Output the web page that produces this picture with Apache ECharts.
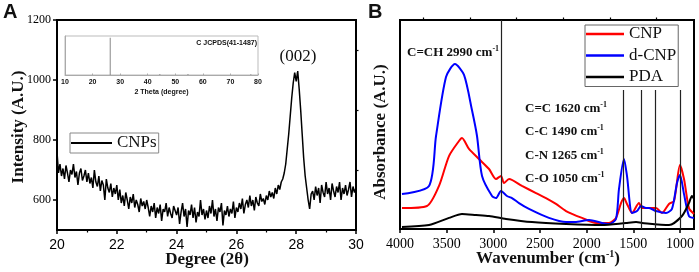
<!DOCTYPE html>
<html>
<head>
<meta charset="utf-8">
<script src="https://cdn.jsdelivr.net/npm/echarts@6/dist/echarts.min.js"></script>
<style>html,body{margin:0;padding:0;background:#fff}#c{width:699px;height:272px}</style>
</head>
<body>
<div id="c"></div>
<script>
// ---------- Panel A : XRD ----------
const xrdStart = 20, xrdStep = 0.05;
const xrdIntensity = [
 760,690,720,680,705,670,715,690,660,700,685,720,675,695,650,690,705,665,680,700,660,
 690,655,675,640,700,660,645,680,630,665,650,600,670,640,625,655,610,640,620,650,
 600,635,590,615,580,625,600,570,610,590,620,575,600,585,560,605,580,595,570,600,
 575,545,580,560,590,540,575,555,585,530,570,560,590,545,575,555,540,580,565,550,
 575,520,560,590,545,570,510,565,550,585,540,575,525,560,545,600,550,570,535,565,
 540,580,555,600,545,570,530,575,560,590,515,565,550,580,545,570,555,595,540,575,
 560,590,570,605,555,585,600,575,615,580,600,565,610,590,580,620,595,605,585,615,
 600,630,610,625,605,640,620,650,635,660,
 670,690,720,770,820,880,940,990,1025,995,1030,970,900,820,740,680,640,600,570,620,
 630,600,645,615,640,590,650,625,610,660,620,640,600,655,630,610,645,625,660,600,
 640,620,650,615,635,660,610,645,625,640
];
const xrdYTicks = [600,800,1000,1200];
const xrdYMinorTicks = [700,900,1100];
// inset: JCPDS reference sticks
const jcpdsAngle = [26.4, 44.4, 54.6, 77.4];
const jcpdsRel = [1.0, 0.03, 0.03, 0.02];

// ---------- Panel B : FTIR ----------
const cnpWave = [3979,3711,3582,3475,3368,3336,3261,3154,3046,2971,2918,2886,2832,2693,2543,2436,2329,2221,2050,1900,1761,1686,1632,1600,1568,1514,1439,1407,1332,1257,1193,1118,1064,1000,957,904,850];
const cnpAbs  = [10.0,11.0,20.6,34.9,42.1,43.5,38.3,33.5,28.7,23.9,25.4,22.0,23.9,20.6,17.2,14.8,12.0,8.6,5.3,2.9,2.9,5.3,12.4,14.8,12.0,7.7,12.4,10.0,10.0,10.0,7.7,12.0,13.4,30.6,23.9,10.0,7.2];
const dcnpWave = [3979,3689,3614,3507,3411,3314,3229,3175,3121,3014,2971,2918,2854,2800,2725,2618,2404,2221,2125,1975,1836,1761,1686,1654,1600,1568,1514,1461,1418,1364,1332,1257,1150,1086,1032,1000,957,904,850];
const dcnpAbs  = [16.7,20.6,44.5,72.7,78.9,73.7,56.9,44.5,25.4,15.8,14.8,18.2,15.8,14.8,12.4,9.6,5.3,3.3,3.3,4.3,2.9,2.4,4.8,19.1,33.5,25.4,7.7,8.6,11.0,10.0,10.0,8.6,7.7,9.6,22.0,25.8,16.7,6.2,5.3];
const pdaWave = [3979,3689,3475,3336,3186,3046,2864,2586,2221,1836,1579,1471,1407,1118,979,904,872,850];
const pdaAbs  = [1.0,1.9,5.3,7.2,6.7,6.2,4.8,3.3,2.4,1.9,2.9,3.3,2.9,1.9,6.2,12.4,15.8,14.4];
const ftirXTicks = [1000,1500,2000,2500,3000,3500,4000];
const ftirXMinorTicks = [1250,1750,2250,2750,3250,3750];
const bandFull = [2910];                 // C=CH line (full height)
const bandShort = [1610,1420,1260,1000]; // C=C, C-C, C-N, C-O lines
const bandShortTop = 66.5;
const bandLabels = ['C=C 1620 cm','C-C 1490 cm','C-N 1265 cm','C-O 1050 cm'];

const SERIF = 'Liberation Serif', SANS = 'Liberation Sans';
const pair = (xs, ys) => xs.map((x, i) => [x, ys[i]]);
const xrdData = xrdIntensity.map((v, i) => [+(xrdStart + i * xrdStep).toFixed(2), v]);
const plain = v => String(v);

const markData = bandFull.map(w => [{coord:[w,0]},{coord:[w,100]}])
  .concat(bandShort.map(w => [{coord:[w,0]},{coord:[w,bandShortTop]}]));

const chart = echarts.init(document.getElementById('c'), null, {renderer:'canvas'});

function supText(x, y, main, size, align, tail) {
  return {
    type:'text', x:x, y:y,
    style:{
      text:'{t|' + main + '}{s|-1}' + (tail ? '{t|' + tail + '}' : ''),
      align: align || 'left', verticalAlign:'middle',
      rich:{
        t:{fontFamily:SERIF,fontWeight:'bold',fontSize:size,lineHeight:size+3,fill:'#111'},
        s:{fontFamily:SERIF,fontWeight:'bold',fontSize:Math.round(size*0.6),lineHeight:Math.round(size*0.6)+1,verticalAlign:'top',fill:'#111'}
      }
    }
  };
}

const option = {
  animation:false,
  backgroundColor:'#fff',
  grid:[
    {left:57, top:20, width:299, height:210, show:true, borderColor:'#000', borderWidth:2, backgroundColor:'transparent'},
    {left:65, top:36, width:193, height:39, show:true, borderColor:'#bbb', borderWidth:1, backgroundColor:'transparent'},
    {left:400, top:20, width:294, height:209, show:true, borderColor:'#000', borderWidth:2, backgroundColor:'transparent'}
  ],
  xAxis:[
    {gridIndex:0, type:'value', min:20, max:30, interval:2,
     axisLine:{lineStyle:{color:'#000',width:2}},
     axisTick:{show:true, length:4, lineStyle:{color:'#000',width:1.5}},
     minorTick:{show:true, splitNumber:2, length:2.5, lineStyle:{color:'#000',width:1.2}},
     axisLabel:{margin:8, fontFamily:SANS, fontSize:14, color:'#000', formatter:plain},
     splitLine:{show:false}},
    {gridIndex:1, type:'value', min:10, max:80, interval:10,
     axisLine:{lineStyle:{color:'#aaa',width:1}},
     axisTick:{show:true, inside:true, length:1.5, lineStyle:{color:'#aaa'}},
     axisLabel:{margin:4, fontFamily:SANS, fontWeight:'bold', fontSize:7, color:'#111', formatter:plain},
     name:'2 Theta (degree)', nameLocation:'middle', nameGap:14,
     nameTextStyle:{fontFamily:SANS, fontWeight:'bold', fontSize:7, color:'#111'},
     splitLine:{show:false}},
    {gridIndex:2, type:'value', min:850, max:4000, inverse:true,
     axisLine:{lineStyle:{color:'#000',width:2}},
     axisTick:{show:true, length:4, customValues:ftirXTicks, lineStyle:{color:'#000',width:1.5}},
     axisLabel:{margin:8, fontFamily:SERIF, fontSize:14, color:'#000', customValues:ftirXTicks, formatter:plain},
     splitLine:{show:false}},
    {gridIndex:2, type:'value', min:850, max:4000, inverse:true,
     axisLine:{show:false},
     axisTick:{show:true, length:2.5, customValues:ftirXMinorTicks, lineStyle:{color:'#000',width:1.2}},
     axisLabel:{show:false}, splitLine:{show:false}}
  ],
  yAxis:[
    {gridIndex:0, type:'value', min:500, max:1200,
     axisLine:{show:true, lineStyle:{color:'#000',width:2}},
     axisTick:{show:true, length:4, customValues:xrdYTicks, lineStyle:{color:'#000',width:1.5}},
     axisLabel:{margin:6, fontFamily:SERIF, fontSize:12, color:'#000', customValues:xrdYTicks, formatter:plain},
     splitLine:{show:false}},
    {gridIndex:0, type:'value', min:500, max:1200,
     axisLine:{show:false},
     axisTick:{show:true, length:2.5, customValues:xrdYMinorTicks, lineStyle:{color:'#000',width:1.2}},
     axisLabel:{show:false}, splitLine:{show:false}},
    {gridIndex:1, type:'value', min:0, max:1.05,
     axisLine:{show:true, lineStyle:{color:'#aaa',width:1}},
     axisTick:{show:false}, axisLabel:{show:false}, splitLine:{show:false}},
    {gridIndex:2, type:'value', min:0, max:100,
     axisLine:{show:true, lineStyle:{color:'#000',width:2}},
     axisTick:{show:false}, axisLabel:{show:false}, splitLine:{show:false}}
  ],
  legend:[
    {left:70, top:133, orient:'vertical', padding:[1.5,2,1.5,1],
     borderColor:'#888', borderWidth:1, borderRadius:0,
     itemWidth:41, itemHeight:2, itemGap:4, icon:'rect',
     textStyle:{fontFamily:SERIF, fontSize:17, lineHeight:17, color:'#111'},
     data:['CNPs']},
    {left:585, top:25, orient:'vertical', padding:[0.5,2,1,1],
     borderColor:'#666', borderWidth:1, borderRadius:0,
     itemWidth:38, itemHeight:2.5, itemGap:4.5, icon:'rect',
     textStyle:{fontFamily:SERIF, fontSize:17, lineHeight:17, color:'#111'},
     data:['CNP','d-CNP','PDA']}
  ],
  series:[
    {name:'CNPs', type:'line', xAxisIndex:0, yAxisIndex:0, data:xrdData,
     showSymbol:false, symbol:'none', lineStyle:{color:'#000', width:1.5}, itemStyle:{color:'#000'}},
    {name:'JCPDS', type:'bar', xAxisIndex:1, yAxisIndex:2, data:pair(jcpdsAngle, jcpdsRel),
     barWidth:1, itemStyle:{color:'#888'}},
    {name:'CNP', type:'line', xAxisIndex:2, yAxisIndex:3, data:pair(cnpWave, cnpAbs), smooth:0.25,
     showSymbol:false, symbol:'none', lineStyle:{color:'#ff0000', width:2}, itemStyle:{color:'#ff0000'}},
    {name:'d-CNP', type:'line', xAxisIndex:2, yAxisIndex:3, data:pair(dcnpWave, dcnpAbs), smooth:0.25,
     showSymbol:false, symbol:'none', lineStyle:{color:'#0000ff', width:2}, itemStyle:{color:'#0000ff'}},
    {name:'PDA', type:'line', xAxisIndex:2, yAxisIndex:3, data:pair(pdaWave, pdaAbs), smooth:0.25,
     showSymbol:false, symbol:'none', lineStyle:{color:'#000', width:2}, itemStyle:{color:'#000'},
     markLine:{silent:true, symbol:['none','none'], label:{show:false},
       lineStyle:{color:'#222', width:1.2, type:'solid'}, data:markData}}
  ],
  graphic:[
    {type:'text', x:3, y:2, style:{text:'A', fontFamily:SANS, fontWeight:'bold', fontSize:20, fill:'#111'}},
    {type:'text', x:368, y:2, style:{text:'B', fontFamily:SANS, fontWeight:'bold', fontSize:20, fill:'#111'}},
    {type:'text', x:19, y:127, rotation:Math.PI/2,
     style:{text:'Intensity (A.U.)', fontFamily:SERIF, fontWeight:'bold', fontSize:17, fill:'#111', align:'center', verticalAlign:'middle'}},
    {type:'text', x:207, y:260,
     style:{text:'Degree (2θ)', fontFamily:SERIF, fontWeight:'bold', fontSize:17, fill:'#111', align:'center', verticalAlign:'middle'}},
    {type:'text', x:298, y:57,
     style:{text:'(002)', fontFamily:SERIF, fontSize:17, fill:'#111', align:'center', verticalAlign:'middle'}},
    {type:'text', x:257, y:43,
     style:{text:'C JCPDS(41-1487)', fontFamily:SANS, fontWeight:'bold', fontSize:7, fill:'#111', align:'right', verticalAlign:'middle'}},
    {type:'text', x:381, y:132, rotation:Math.PI/2,
     style:{text:'Absorbance (A.U.)', fontFamily:SERIF, fontWeight:'bold', fontSize:17, fill:'#111', align:'center', verticalAlign:'middle'}},
    supText(548, 259, 'Wavenumber (cm', 17, 'center', ')'),
    supText(407, 53, 'C=CH 2990 cm', 13),
    supText(525, 109, bandLabels[0], 13),
    supText(525, 132, bandLabels[1], 13),
    supText(525, 156, bandLabels[2], 13),
    supText(525, 179, bandLabels[3], 13)
  ]
};
chart.setOption(option);
</script>
</body>
</html>
